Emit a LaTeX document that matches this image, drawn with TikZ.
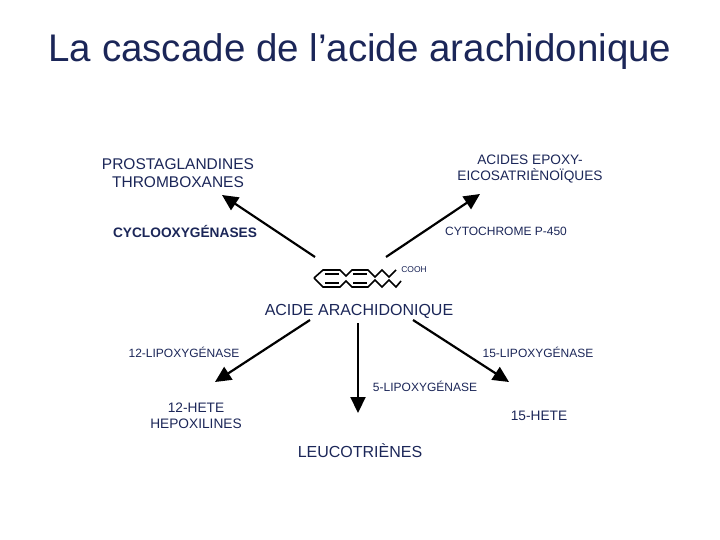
\documentclass[tikz,border=0pt]{standalone}
\usepackage{fontspec}
\setmainfont{Liberation Sans}
\usetikzlibrary{arrows.meta}
\definecolor{navy}{HTML}{1B2658}
\begin{document}
\begin{tikzpicture}[x=1pt,y=-1pt,
 lab/.style={text=navy,font=\fontsize{12}{14}\selectfont,align=center,inner sep=0},
 labm/.style={text=navy,font=\fontsize{13.7}{16}\selectfont,align=center,inner sep=0},
 big/.style={text=navy,font=\fontsize{16}{18.5}\selectfont,align=center,inner sep=0},
 arr/.style={line width=2.2pt,-{Triangle[length=16pt,width=15pt]}},
 mol/.style={line width=1.6pt,line join=miter}]
\useasboundingbox (0,0) rectangle (720,540);
\node[text=navy,font=\fontsize{38.5}{44}\selectfont,inner sep=0] (title) at (360,52) {La cascade de l’acide arachidonique};
\node[big,font=\fontsize{15.5}{18}\selectfont] (pg) at (178,173) {PROSTAGLANDINES\\THROMBOXANES};
\node[labm] (ae) at (530,169) {ACIDES EPOXY-\\EICOSATRIÈNOÏQUES};
\node[lab,font=\bfseries\fontsize{13.7}{16}\selectfont] (cox) at (185,231) {CYCLOOXYGÉNASES};
\node[lab] (cyt) at (506,231) {CYTOCHROME P-450};
\node[lab,font=\fontsize{8.5}{10}\selectfont] (cooh) at (414,270) {COOH};
\node[big] (aa) at (359,311) {ACIDE ARACHIDONIQUE};
\node[lab] (l12) at (184,352) {12-LIPOXYGÉNASE};
\node[lab] (l15) at (538,352) {15-LIPOXYGÉNASE};
\node[lab] (l5) at (425,386) {5-LIPOXYGÉNASE};
\node[labm] (h12) at (196,416) {12-HETE\\HEPOXILINES};
\node[labm] (h15) at (539,416) {15-HETE};
\node[big] (lt) at (360,451) {LEUCOTRIÈNES};
\coordinate (s1) at (315,257); \coordinate (t1) at (222,195);
\coordinate (s2) at (386,257); \coordinate (t2) at (480,194);
\coordinate (s3) at (310,320); \coordinate (t3) at (215,382);
\coordinate (s4) at (358,323); \coordinate (t4) at (358,413);
\coordinate (s5) at (413,320); \coordinate (t5) at (509,382);
\foreach \i in {1,...,5} \draw[arr] (s\i) -- (t\i);
% molecule
\draw[mol] (314,278) -- (323,270) -- (340,270) -- (346,276) -- (352,270) -- (368,270) -- (375,277) -- (382,270) -- (389,277) -- (396,270);
\draw[mol] (314,278) -- (323,287) -- (340,287) -- (346,281) -- (352,287) -- (368,287) -- (375,280) -- (382,287) -- (389,280) -- (396,287) -- (401,281);
\draw[mol] (325,274) -- (339,274) (353,274) -- (367,274);
\draw[mol] (325,283) -- (339,283) (353,283) -- (367,283);
\end{tikzpicture}
\end{document}
